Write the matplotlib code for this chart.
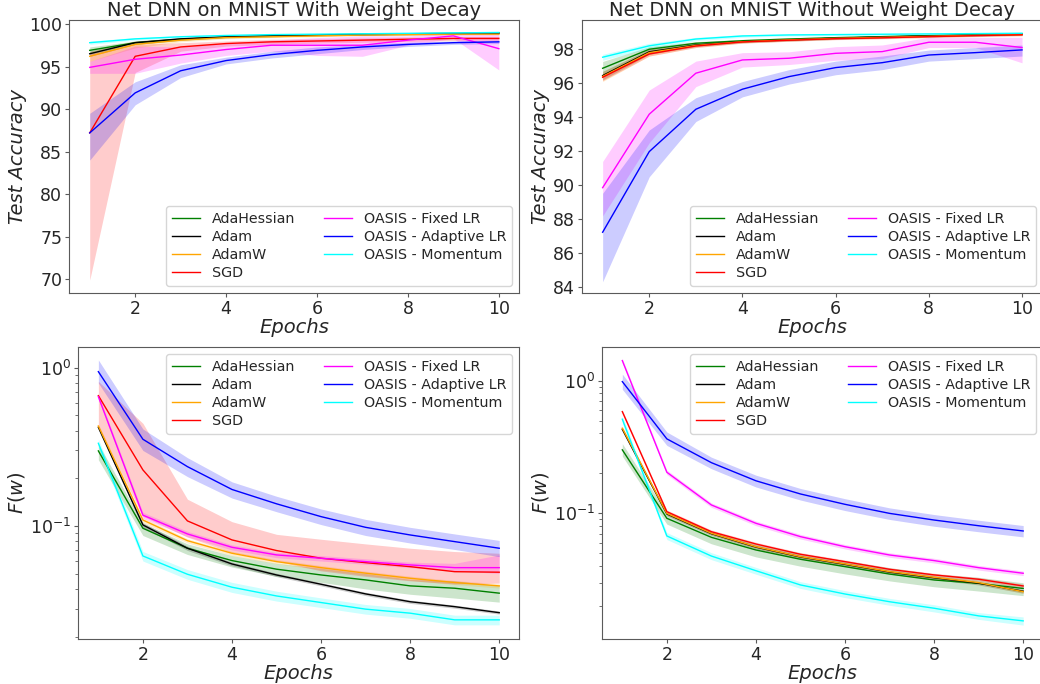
import matplotlib
matplotlib.use('Agg')
import matplotlib.pyplot as plt

epochs = [1, 2, 3, 4, 5, 6, 7, 8, 9, 10]
optimizers = ['AdaHessian', 'Adam', 'AdamW', 'SGD',
              'OASIS - Fixed LR', 'OASIS - Adaptive LR', 'OASIS - Momentum']
colors = ['green', 'black', 'orange', 'red', 'magenta', 'blue', 'cyan']

# test accuracy, with weight decay (mean, lower, upper), one row per optimizer
wd_acc = [
    [96.9, 97.8, 98.2, 98.45, 98.6, 98.7, 98.8, 98.85, 98.9, 98.95],
    [96.5, 97.8, 98.25, 98.5, 98.6, 98.7, 98.75, 98.8, 98.85, 98.9],
    [96.2, 97.6, 98.1, 98.4, 98.5, 98.6, 98.7, 98.75, 98.8, 98.8],
    [87.2, 96.2, 97.3, 97.7, 97.9, 98.0, 98.1, 98.2, 98.3, 98.3],
    [94.9, 95.85, 96.35, 97.0, 97.5, 97.5, 97.5, 98.1, 98.6, 97.1],
    [87.2, 91.9, 94.5, 95.7, 96.4, 96.9, 97.3, 97.6, 97.8, 97.9],
    [97.8, 98.25, 98.5, 98.65, 98.75, 98.8, 98.85, 98.9, 98.95, 99.0],
]
wd_acc_lo = [
    [96.5, 97.6, 98.05, 98.35, 98.5, 98.6, 98.7, 98.75, 98.8, 98.85],
    [96.2, 97.6, 98.1, 98.4, 98.5, 98.6, 98.65, 98.7, 98.75, 98.8],
    [95.6, 97.2, 97.9, 98.25, 98.4, 98.5, 98.6, 98.65, 98.7, 98.7],
    [69.9, 94.3, 96.8, 97.4, 97.6, 97.75, 97.85, 97.95, 98.05, 98.1],
    [94.2, 94.2, 95.4, 96.3, 96.8, 96.3, 96.2, 97.5, 98.3, 94.6],
    [84.0, 90.5, 93.7, 95.3, 96.0, 96.5, 97.0, 97.35, 97.6, 97.7],
    [97.6, 98.1, 98.4, 98.55, 98.65, 98.7, 98.75, 98.8, 98.85, 98.9],
]
wd_acc_hi = [
    [97.3, 98.0, 98.35, 98.55, 98.7, 98.8, 98.9, 98.95, 99.0, 99.05],
    [96.8, 98.0, 98.4, 98.6, 98.7, 98.8, 98.85, 98.9, 98.95, 99.0],
    [96.8, 98.0, 98.3, 98.55, 98.6, 98.7, 98.8, 98.85, 98.9, 98.9],
    [96.5, 97.6, 97.8, 98.0, 98.2, 98.25, 98.35, 98.45, 98.5, 98.5],
    [95.6, 97.4, 97.3, 97.7, 98.1, 98.4, 98.6, 98.6, 98.9, 99.1],
    [89.5, 93.2, 95.2, 96.1, 96.8, 97.3, 97.6, 97.85, 98.0, 98.1],
    [98.0, 98.4, 98.6, 98.75, 98.85, 98.9, 98.95, 99.0, 99.05, 99.1],
]

# test accuracy, without weight decay
nowd_acc = [
    [96.88, 98.0, 98.35, 98.5, 98.6, 98.68, 98.74, 98.8, 98.85, 98.9],
    [96.45, 97.85, 98.25, 98.45, 98.55, 98.65, 98.72, 98.78, 98.83, 98.88],
    [96.4, 97.8, 98.22, 98.44, 98.55, 98.64, 98.7, 98.76, 98.82, 98.86],
    [96.35, 97.72, 98.19, 98.43, 98.53, 98.62, 98.67, 98.74, 98.8, 98.85],
    [89.86, 94.18, 96.59, 97.37, 97.47, 97.76, 97.86, 98.41, 98.41, 98.1],
    [87.24, 91.98, 94.47, 95.65, 96.39, 96.92, 97.21, 97.66, 97.8, 97.96],
    [97.53, 98.2, 98.6, 98.78, 98.84, 98.86, 98.88, 98.9, 98.92, 98.94],
]
nowd_acc_lo = [
    [96.5, 97.85, 98.25, 98.42, 98.53, 98.61, 98.67, 98.73, 98.78, 98.83],
    [96.2, 97.7, 98.15, 98.38, 98.48, 98.58, 98.66, 98.72, 98.77, 98.82],
    [96.1, 97.6, 98.1, 98.36, 98.47, 98.57, 98.63, 98.7, 98.76, 98.8],
    [96.15, 97.6, 98.1, 98.36, 98.47, 98.56, 98.61, 98.68, 98.74, 98.79],
    [88.2, 92.5, 95.8, 96.95, 97.1, 97.35, 97.45, 98.1, 98.1, 97.2],
    [84.33, 90.5, 93.75, 95.2, 95.95, 96.5, 96.8, 97.3, 97.45, 97.6],
    [97.35, 98.05, 98.5, 98.7, 98.78, 98.8, 98.82, 98.85, 98.87, 98.89],
]
nowd_acc_hi = [
    [97.28, 98.15, 98.45, 98.58, 98.67, 98.75, 98.81, 98.87, 98.92, 98.97],
    [96.7, 98.0, 98.35, 98.52, 98.62, 98.72, 98.78, 98.84, 98.89, 98.94],
    [96.7, 98.0, 98.34, 98.52, 98.63, 98.71, 98.77, 98.82, 98.88, 98.92],
    [96.55, 97.84, 98.28, 98.5, 98.59, 98.68, 98.73, 98.8, 98.86, 98.91],
    [91.4, 95.6, 97.3, 97.8, 97.85, 98.15, 98.25, 98.7, 98.7, 98.7],
    [89.53, 93.25, 95.15, 96.1, 96.8, 97.3, 97.6, 97.95, 98.1, 98.25],
    [97.7, 98.35, 98.7, 98.86, 98.9, 98.92, 98.94, 98.96, 98.97, 98.99],
]

# training loss F(w), with weight decay
wd_loss = [
    [0.298, 0.0967, 0.0723, 0.0604, 0.0533, 0.049, 0.0456, 0.0418, 0.0404, 0.0376],
    [0.42, 0.1015, 0.0723, 0.0575, 0.049, 0.0428, 0.0372, 0.0332, 0.0309, 0.0283],
    [0.428, 0.109, 0.0807, 0.0672, 0.0595, 0.0545, 0.0503, 0.0467, 0.0439, 0.0418],
    [0.666, 0.226, 0.1076, 0.0816, 0.0699, 0.0625, 0.0586, 0.0553, 0.0514, 0.051],
    [0.656, 0.117, 0.089, 0.0733, 0.0656, 0.0625, 0.0595, 0.0567, 0.0545, 0.0545],
    [0.944, 0.353, 0.237, 0.17, 0.138, 0.1145, 0.098, 0.0877, 0.0796, 0.0723],
    [0.333, 0.0646, 0.0495, 0.041, 0.0361, 0.0328, 0.0298, 0.0281, 0.0255, 0.0255],
]
wd_loss_lo = [
    [0.262, 0.087, 0.066, 0.055, 0.048, 0.044, 0.040, 0.037, 0.035, 0.033],
    [0.41, 0.098, 0.070, 0.056, 0.0478, 0.0418, 0.0363, 0.0324, 0.0302, 0.0277],
    [0.415, 0.105, 0.078, 0.065, 0.0577, 0.0528, 0.0488, 0.0453, 0.0426, 0.0405],
    [0.43, 0.115, 0.085, 0.068, 0.06, 0.052, 0.048, 0.045, 0.043, 0.0435],
    [0.63, 0.112, 0.0855, 0.0705, 0.063, 0.06, 0.0572, 0.0545, 0.052, 0.0501],
    [0.80, 0.30, 0.205, 0.15, 0.123, 0.102, 0.087, 0.078, 0.071, 0.064],
    [0.31, 0.060, 0.046, 0.038, 0.0335, 0.0305, 0.0277, 0.0261, 0.0237, 0.0237],
]
wd_loss_hi = [
    [0.33, 0.104, 0.077, 0.065, 0.058, 0.054, 0.050, 0.046, 0.045, 0.042],
    [0.43, 0.105, 0.0745, 0.059, 0.0502, 0.0438, 0.0381, 0.034, 0.0316, 0.029],
    [0.441, 0.113, 0.083, 0.069, 0.0613, 0.0562, 0.0518, 0.0481, 0.0452, 0.0431],
    [0.82, 0.445, 0.1475, 0.1064, 0.0885, 0.0824, 0.077, 0.0723, 0.0689, 0.0672],
    [0.68, 0.122, 0.0925, 0.076, 0.068, 0.065, 0.062, 0.059, 0.058, 0.0656],
    [1.12, 0.41, 0.27, 0.19, 0.154, 0.128, 0.11, 0.098, 0.089, 0.081],
    [0.355, 0.069, 0.053, 0.044, 0.0387, 0.0351, 0.0319, 0.0301, 0.0273, 0.0273],
]

# training loss F(w), without weight decay
nowd_loss = [
    [0.301, 0.0918, 0.066, 0.053, 0.0451, 0.0397, 0.0349, 0.0315, 0.0297, 0.0272],
    [0.43, 0.099, 0.0703, 0.0557, 0.0469, 0.0413, 0.0361, 0.0327, 0.0298, 0.0259],
    [0.438, 0.1, 0.0708, 0.0561, 0.0472, 0.0416, 0.0364, 0.033, 0.0301, 0.0257],
    [0.584, 0.103, 0.0728, 0.0588, 0.0492, 0.0433, 0.0379, 0.0344, 0.0319, 0.0284],
    [1.415, 0.204, 0.1157, 0.0842, 0.0668, 0.0561, 0.0486, 0.0441, 0.039, 0.0354],
    [0.983, 0.364, 0.241, 0.176, 0.14, 0.117, 0.1, 0.0891, 0.0807, 0.0737],
    [0.512, 0.0676, 0.0477, 0.037, 0.0289, 0.0247, 0.0216, 0.0193, 0.0169, 0.0155],
]
nowd_loss_lo = [
    [0.27, 0.083, 0.059, 0.047, 0.040, 0.035, 0.031, 0.028, 0.026, 0.024],
    [0.415, 0.096, 0.0683, 0.054, 0.0455, 0.04, 0.035, 0.0317, 0.0289, 0.0251],
    [0.424, 0.097, 0.0687, 0.0544, 0.0458, 0.0404, 0.0353, 0.032, 0.0292, 0.0249],
    [0.566, 0.1, 0.0706, 0.057, 0.0477, 0.042, 0.0368, 0.0334, 0.0309, 0.0275],
    [1.36, 0.196, 0.111, 0.0808, 0.0641, 0.0539, 0.0467, 0.0423, 0.0374, 0.034],
    [0.86, 0.325, 0.217, 0.158, 0.126, 0.105, 0.09, 0.080, 0.0727, 0.0665],
    [0.48, 0.0635, 0.0448, 0.0348, 0.0272, 0.0232, 0.0203, 0.0181, 0.0159, 0.0144],
]
nowd_loss_hi = [
    [0.335, 0.101, 0.073, 0.059, 0.050, 0.044, 0.039, 0.035, 0.033, 0.030],
    [0.445, 0.102, 0.0723, 0.0574, 0.0483, 0.0426, 0.0372, 0.0337, 0.0307, 0.0267],
    [0.452, 0.103, 0.0729, 0.0578, 0.0486, 0.0428, 0.0375, 0.034, 0.031, 0.0265],
    [0.602, 0.106, 0.075, 0.0606, 0.0507, 0.0446, 0.039, 0.0354, 0.0329, 0.0293],
    [1.47, 0.212, 0.12, 0.0876, 0.0695, 0.0583, 0.0505, 0.0459, 0.0406, 0.0368],
    [1.12, 0.41, 0.265, 0.194, 0.154, 0.129, 0.11, 0.098, 0.0888, 0.081],
    [0.54, 0.0717, 0.0506, 0.0392, 0.0306, 0.0262, 0.0229, 0.0205, 0.0179, 0.0166],
]

plt.rcParams['axes.edgecolor'] = '#5a5a5a'
plt.rcParams['xtick.color'] = '#5a5a5a'
plt.rcParams['ytick.color'] = '#5a5a5a'
plt.rcParams['xtick.labelcolor'] = '#262626'
plt.rcParams['ytick.labelcolor'] = '#262626'
plt.rcParams['text.color'] = '#262626'
plt.rcParams['axes.labelcolor'] = '#262626'


def draw_panel(ax, mean, lo, hi, title=None, ylabel='', legend_loc='lower right', log=False):
    for i, name in enumerate(optimizers):
        ax.plot(epochs, mean[i], color=colors[i], lw=1.0, label=name)
        ax.fill_between(epochs, lo[i], hi[i], color=colors[i], alpha=0.2, lw=0)
    if log:
        ax.set_yscale('log')
    if title:
        ax.set_title(title, fontsize=14, pad=3)
    ax.set_xlabel('Epochs', fontsize=14, fontstyle='italic', labelpad=0)
    ax.set_ylabel(ylabel, fontsize=14, fontstyle='italic', labelpad=2)
    ax.set_xticks([2, 4, 6, 8, 10])
    ax.tick_params(labelsize=12.5, length=3, pad=2)
    ax.tick_params(which='minor', length=2)
    ax.legend(loc=legend_loc, ncol=2, fontsize=10.3, labelspacing=0.3)


fig = plt.figure(figsize=(10.4, 6.84), dpi=100)
ax1 = fig.add_axes([0.0666, 0.5712, 0.4327, 0.3996])
ax2 = fig.add_axes([0.5593, 0.5712, 0.4436, 0.3996])
ax3 = fig.add_axes([0.0753, 0.0658, 0.4240, 0.4273])
ax4 = fig.add_axes([0.5791, 0.0658, 0.4240, 0.4273])

draw_panel(ax1, wd_acc, wd_acc_lo, wd_acc_hi,
           title='Net DNN on MNIST With Weight Decay', ylabel='Test Accuracy')
ax1.set_ylim(68.35, 100.47)
draw_panel(ax2, nowd_acc, nowd_acc_lo, nowd_acc_hi,
           title='Net DNN on MNIST Without Weight Decay', ylabel='Test Accuracy')
ax2.set_ylim(83.65, 99.72)
ax2.set_yticks([84, 86, 88, 90, 92, 94, 96, 98])
draw_panel(ax3, wd_loss, wd_loss_lo, wd_loss_hi, ylabel='$F(w)$',
           legend_loc='upper right', log=True)
ax3.set_ylim(0.0193, 1.357)
draw_panel(ax4, nowd_loss, nowd_loss_lo, nowd_loss_hi, ylabel='$F(w)$',
           legend_loc='upper right', log=True)
ax4.set_ylim(0.01132, 1.80)

fig.savefig('out.png', dpi=100)
